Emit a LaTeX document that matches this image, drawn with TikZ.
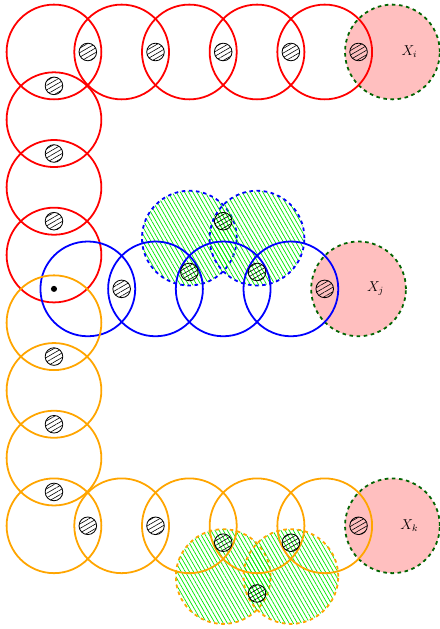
\documentclass[tikz,border=0pt]{standalone}
\usetikzlibrary{patterns,patterns.meta}
\definecolor{myorange}{RGB}{255,165,0}
\definecolor{mydkgreen}{RGB}{0,100,0}
\definecolor{hatchgreen}{RGB}{0,235,0}
\begin{document}
\begin{tikzpicture}[
  bigc/.style={line width=1.5pt},
  sensor/.style={draw=black, line width=0.7pt, pattern={Lines[angle=30,distance=3.3pt,line width=0.5pt]}},
  target/.style={fill=pink, draw=mydkgreen, dashed, line width=1.5pt},
  cover/.style={pattern={Lines[angle=-60,distance=3pt,line width=0.6pt]}, pattern color=hatchgreen, dashed, line width=1.5pt}]
\useasboundingbox (-1.595,-17.05) rectangle (11.405,1.536);
\def\R{1.4}
\def\r{0.26}
% green coverage circles
\foreach \p in {(4,-5.5),(6,-5.5)} \draw[cover, draw=blue] \p circle (\R);
\foreach \p in {(5,-15.5),(7,-15.5)} \draw[cover, draw=myorange] \p circle (\R);
% targets
\draw[target] (10,0) circle (\R);
\draw[target] (9,-7) circle (\R);
\draw[target] (10,-14) circle (\R);
\node[font=\large] (Xi) at (10.5,0) {$X_i$};
\node[font=\large] (Xj) at (9.5,-7) {$X_j$};
\node[font=\large] (Xk) at (10.5,-14) {$X_k$};
% red path
\foreach \p in {(0,0),(2,0),(4,0),(6,0),(8,0),(0,-2),(0,-4),(0,-6)}
  \draw[bigc, red] \p circle (\R);
% blue path
\foreach \p in {(1,-7),(3,-7),(5,-7),(7,-7)}
  \draw[bigc, blue] \p circle (\R);
% orange path
\foreach \p in {(0,-8),(0,-10),(0,-12),(0,-14),(2,-14),(4,-14),(6,-14),(8,-14)}
  \draw[bigc, myorange] \p circle (\R);
% sensors
\foreach \p in {(1,0),(3,0),(5,0),(7,0),(9,0),(0,-1),(0,-3),(0,-5),
  (5,-5),(2,-7),(4,-6.5),(6,-6.5),(8,-7),
  (0,-9),(0,-11),(0,-13),(1,-14),(3,-14),(5,-14.5),(7,-14.5),(9,-14),(6,-16)}
  \draw[sensor] \p circle (\r);
\fill (0,-7) circle (0.09);
\end{tikzpicture}
\end{document}
